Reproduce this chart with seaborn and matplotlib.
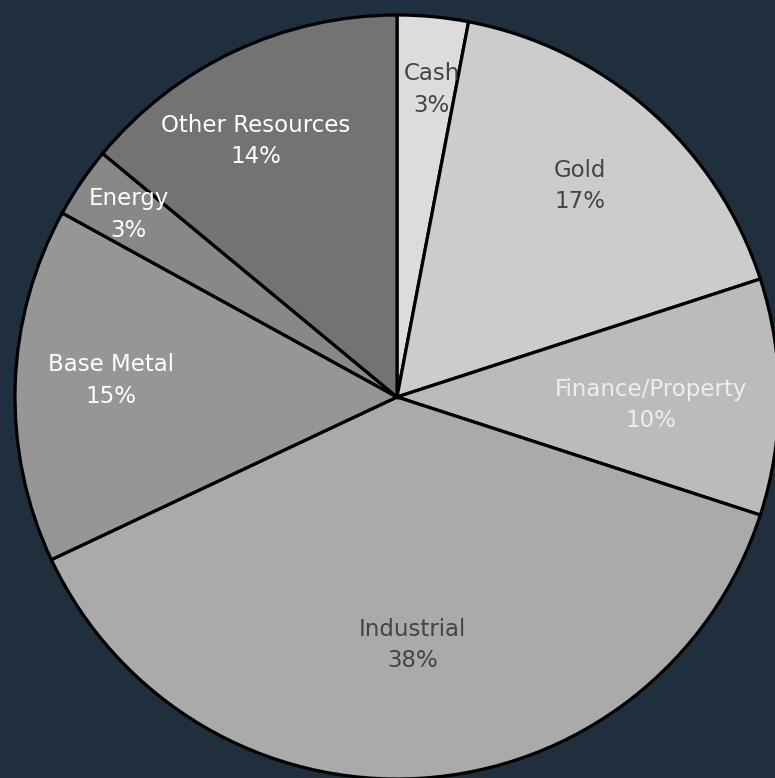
import numpy as np
import matplotlib
matplotlib.use("Agg")
import matplotlib.pyplot as plt
import seaborn as sns

# sector weights (%), clockwise from 12 o'clock
sectors = ["Cash", "Gold", "Finance/Property", "Industrial",
           "Base Metal", "Energy", "Other Resources"]
weights = [3, 17, 10, 38, 15, 3, 14]

slice_colors = ["#dcdcdc", "#cccccc", "#bbbbbb", "#aaaaaa",
                "#969696", "#888888", "#737373"]
text_colors = ["#444444", "#444444", "#eeeeee", "#444444",
               "#ffffff", "#ffffff", "#ffffff"]
# label placement: fraction of radius and angle nudge (deg)
label_dist = [0.81, 0.73, 0.665, 0.65, 0.75, 0.85, 0.765]
label_nudge = [-1.0, 0.5, -1.8, 0.0, -1.5, 0.0, 3.7]

bg = "#1f2f3d"

sns.set_style("white")
plt.rcParams["font.family"] = ["DejaVu Sans"]

fig = plt.figure(figsize=(7.75, 7.78), dpi=100, facecolor=bg)
ax = fig.add_axes([0, 0, 1, 1])
ax.set_facecolor(bg)

wedges, _ = ax.pie(weights, colors=slice_colors, startangle=90,
                   counterclock=False, radius=1.0,
                   wedgeprops=dict(edgecolor="black", linewidth=2.3))

for w, name, val, tc, d, nd in zip(wedges, sectors, weights, text_colors,
                                   label_dist, label_nudge):
    ang = np.deg2rad((w.theta1 + w.theta2) / 2 + nd)
    ax.text(d * np.cos(ang), d * np.sin(ang), f"{name}\n{val}%",
            ha="center", va="center", color=tc, fontsize=16.5,
            linespacing=1.45)

ax.set_xlim(-397 / 382, (775 - 397) / 382)
ax.set_ylim(-(778 - 397) / 382, 397 / 382)
ax.set_aspect("auto")
ax.axis("off")

fig.savefig("out.png", dpi=100, facecolor=bg)
